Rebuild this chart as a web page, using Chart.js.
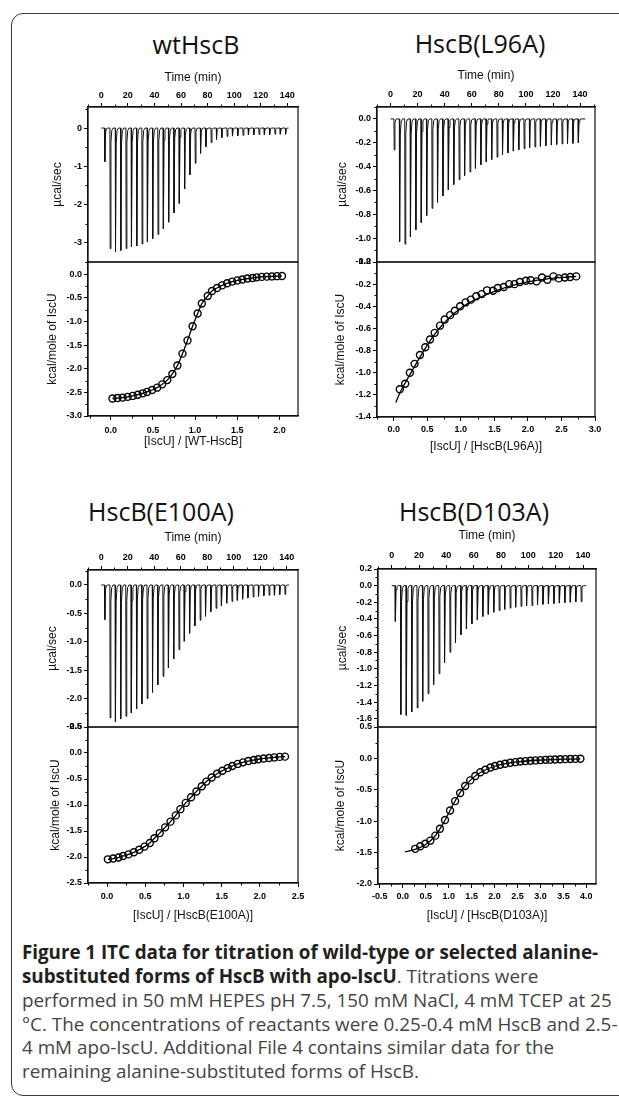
<!DOCTYPE html>
<html><head><meta charset="utf-8">
<script src="https://cdn.jsdelivr.net/npm/chart.js@4.4.0/dist/chart.umd.min.js"></script>
<style>
html,body{margin:0;padding:0;background:#fff;}
body{width:619px;height:1099px;overflow:hidden;position:relative;}
.frame{position:absolute;left:11px;top:13px;width:720px;height:1083px;border:1.6px solid #3a3a3a;border-radius:12px;box-sizing:border-box;}
.ptitle{position:absolute;font-family:"Open Sans";font-size:25px;color:#111;transform:translate(-50%,-50%);white-space:nowrap;line-height:1;}
.cap{position:absolute;left:22px;white-space:nowrap;font-family:"Open Sans";color:#444;line-height:24px;height:24px;}
.cap b{color:#231f20;}
canvas{position:absolute;}
</style></head>
<body>
<div class="frame"></div>
<div class="ptitle" style="left:196px;top:44px;">wtHscB</div>
<div class="ptitle" style="left:480px;top:43px;">HscB(L96A)</div>
<div class="ptitle" style="left:161px;top:511px;">HscB(E100A)</div>
<div class="ptitle" style="left:474px;top:511px;">HscB(D103A)</div>
<div class="cap" id="c1" style="top:940px;"><b>Figure 1 ITC data for titration of wild-type or selected alanine-</b></div>
<div class="cap" id="c2" style="top:964px;"><b>substituted forms of HscB with apo-IscU</b>. Titrations were</div>
<div class="cap" id="c3" style="top:988px;">performed in 50 mM HEPES pH 7.5, 150 mM NaCl, 4 mM TCEP at 25</div>
<div class="cap" id="c4" style="top:1012px;">°C. The concentrations of reactants were 0.25-0.4 mM HscB and 2.5-</div>
<div class="cap" id="c5" style="top:1035px;">4 mM apo-IscU. Additional File 4 contains similar data for the</div>
<div class="cap" id="c6" style="top:1059px;">remaining alanine-substituted forms of HscB.</div>
<script>
// ---------------- DATA ----------------
const timeTicks = [0, 20, 40, 60, 80, 100, 120, 140];
const injTime = [2.5, 6.5, 10.5, 14.5, 18.5, 22.5, 26.5, 30.5, 34.5, 38.5, 42.5, 46.5, 50.5, 54.5, 58.5, 62.5, 66.5, 70.5, 74.5, 78.5, 82.5, 86.5, 90.5, 94.5, 98.5, 102.5, 106.5, 110.5, 114.5, 118.5, 122.5, 126.5, 130.5, 134.5, 138.5];

// raw heat-rate peaks (µcal/sec, magnitude of downward spikes)
const wtPeak   = [0.88, 3.15, 3.23, 3.20, 3.15, 3.10, 3.08, 3.03, 2.97, 2.89, 2.78, 2.63, 2.46, 2.22, 1.97, 1.59, 1.22, 0.92, 0.66, 0.49, 0.38, 0.30, 0.25, 0.22, 0.21, 0.20, 0.19, 0.18, 0.18, 0.17, 0.17, 0.17, 0.16, 0.16, 0.16];
const l96Peak  = [0.26, 1.03, 1.05, 0.99, 0.93, 0.87, 0.81, 0.75, 0.70, 0.645, 0.595, 0.55, 0.51, 0.475, 0.445, 0.415, 0.385, 0.36, 0.34, 0.32, 0.30, 0.285, 0.27, 0.26, 0.25, 0.24, 0.235, 0.23, 0.225, 0.22, 0.215, 0.21, 0.21, 0.205, 0.20];
const e100Peak = [0.61, 2.34, 2.41, 2.36, 2.31, 2.25, 2.18, 2.09, 2.00, 1.89, 1.76, 1.61, 1.46, 1.30, 1.14, 0.99, 0.85, 0.72, 0.62, 0.55, 0.47, 0.41, 0.37, 0.32, 0.29, 0.27, 0.25, 0.23, 0.21, 0.20, 0.19, 0.18, 0.18, 0.17, 0.165];
const d103Peak = [0.43, 1.55, 1.56, 1.52, 1.47, 1.39, 1.30, 1.19, 1.06, 0.93, 0.80, 0.69, 0.59, 0.52, 0.46, 0.41, 0.37, 0.345, 0.32, 0.30, 0.285, 0.27, 0.26, 0.25, 0.245, 0.24, 0.23, 0.225, 0.22, 0.215, 0.21, 0.205, 0.20, 0.197, 0.193];
const wtRunEnd = 140.7, l96RunEnd = 143.9, e100RunEnd = 141.7, d103RunEnd = 142.4;

// integrated heats (kcal/mole of IscU) vs molar ratio
const wtX = [0.02, 0.08, 0.14, 0.20, 0.26, 0.32, 0.38, 0.43, 0.49, 0.55, 0.61, 0.67, 0.73, 0.79, 0.85, 0.91, 0.97, 1.03, 1.08, 1.15, 1.20, 1.26, 1.32, 1.38, 1.44, 1.50, 1.56, 1.62, 1.68, 1.73, 1.79, 1.85, 1.91, 1.97, 2.03];
const wtY = [-2.63, -2.62, -2.61, -2.595, -2.575, -2.55, -2.52, -2.49, -2.45, -2.40, -2.33, -2.24, -2.11, -1.93, -1.68, -1.40, -1.10, -0.83, -0.62, -0.46, -0.355, -0.29, -0.235, -0.19, -0.155, -0.13, -0.11, -0.09, -0.08, -0.065, -0.055, -0.05, -0.045, -0.04, -0.035];

const l96X = [0.09, 0.17, 0.24, 0.31, 0.39, 0.47, 0.54, 0.61, 0.69, 0.76, 0.84, 0.91, 0.99, 1.07, 1.15, 1.23, 1.31, 1.39, 1.48, 1.55, 1.64, 1.72, 1.80, 1.88, 1.97, 2.04, 2.13, 2.21, 2.29, 2.38, 2.46, 2.55, 2.63, 2.72];
const l96Y = [-1.15, -1.10, -1.00, -0.92, -0.84, -0.77, -0.70, -0.64, -0.575, -0.52, -0.48, -0.44, -0.40, -0.365, -0.34, -0.31, -0.29, -0.256, -0.26, -0.235, -0.226, -0.20, -0.20, -0.18, -0.17, -0.165, -0.175, -0.14, -0.16, -0.13, -0.148, -0.14, -0.135, -0.13];
const l96FitX = [0.03, 0.10, 0.20, 0.40, 0.60, 0.80, 1.00, 1.25, 1.50, 1.75, 2.00, 2.25, 2.50, 2.72];
const l96FitY = [-1.27, -1.17, -1.06, -0.85, -0.66, -0.52, -0.415, -0.33, -0.265, -0.215, -0.18, -0.155, -0.14, -0.13];

const e100X = [0.01, 0.08, 0.15, 0.21, 0.28, 0.35, 0.42, 0.49, 0.56, 0.62, 0.69, 0.76, 0.83, 0.90, 0.96, 1.03, 1.10, 1.17, 1.24, 1.30, 1.37, 1.44, 1.51, 1.58, 1.64, 1.71, 1.78, 1.85, 1.92, 1.98, 2.05, 2.12, 2.19, 2.26, 2.33];
const e100Y = [-2.045, -2.03, -2.01, -1.98, -1.95, -1.91, -1.86, -1.80, -1.73, -1.64, -1.54, -1.43, -1.32, -1.20, -1.08, -0.96, -0.85, -0.74, -0.64, -0.55, -0.47, -0.40, -0.34, -0.29, -0.25, -0.21, -0.18, -0.155, -0.135, -0.12, -0.105, -0.095, -0.085, -0.075, -0.07];

const d103X = [0.27, 0.38, 0.49, 0.60, 0.71, 0.81, 0.92, 1.03, 1.14, 1.25, 1.36, 1.47, 1.58, 1.69, 1.80, 1.91, 2.01, 2.12, 2.23, 2.34, 2.45, 2.56, 2.67, 2.78, 2.89, 3.00, 3.11, 3.21, 3.32, 3.43, 3.54, 3.65, 3.76, 3.87];
const d103Y = [-1.44, -1.40, -1.36, -1.31, -1.23, -1.12, -0.98, -0.83, -0.68, -0.55, -0.44, -0.35, -0.28, -0.22, -0.18, -0.145, -0.12, -0.10, -0.085, -0.07, -0.06, -0.05, -0.043, -0.037, -0.032, -0.027, -0.023, -0.02, -0.017, -0.014, -0.012, -0.01, -0.008, -0.006];
const d103FitX = [0.05, 0.27, 0.50, 0.70, 0.90, 1.10, 1.30, 1.50, 1.70, 2.00, 2.50, 3.00, 3.87];
const d103FitY = [-1.49, -1.45, -1.37, -1.24, -1.01, -0.73, -0.49, -0.33, -0.22, -0.125, -0.055, -0.027, -0.006];

// tick labels
const wtTopYTicks = [0, -1, -2, -3];
const wtBotYTicks = [0, -0.5, -1.0, -1.5, -2.0, -2.5, -3.0];
const wtBotXTicks = [0, 0.5, 1.0, 1.5, 2.0];
const l96TopYTicks = [0, -0.2, -0.4, -0.6, -0.8, -1.0, -1.2];
const l96BotYTicks = [0, -0.2, -0.4, -0.6, -0.8, -1.0, -1.2, -1.4];
const l96BotXTicks = [0, 0.5, 1.0, 1.5, 2.0, 2.5, 3.0];
const e100TopYTicks = [0, -0.5, -1.0, -1.5, -2.0, -2.5];
const e100BotYTicks = [0.5, 0, -0.5, -1.0, -1.5, -2.0, -2.5];
const e100BotXTicks = [0, 0.5, 1.0, 1.5, 2.0, 2.5];
const d103TopYTicks = [0.2, 0, -0.2, -0.4, -0.6, -0.8, -1.0, -1.2, -1.4, -1.6];
const d103BotYTicks = [0.5, 0, -0.5, -1.0, -1.5, -2.0];
const d103BotXTicks = [-0.5, 0, 0.5, 1.0, 1.5, 2.0, 2.5, 3.0, 3.5, 4.0];

// ---------------- RENDERING ----------------
Chart.defaults.font.family = 'Liberation Sans';
Chart.defaults.color = '#000';

function spikeTrace(times, peaks, end) {
  const pts = [{x: 0, y: 0}];
  times.forEach((t, i) => {
    const p = peaks[i];
    pts.push({x: t, y: 0}, {x: t + 0.2, y: -p}, {x: t + 0.75, y: -0.12 * p}, {x: t + 1.4, y: -0.02 * p}, {x: t + 2.4, y: 0});
  });
  pts.push({x: end, y: 0});
  return pts;
}
function xy(xs, ys) { return xs.map((x, i) => ({x: x, y: ys[i]})); }

const framePlugin = {
  id: 'frame',
  afterDraw(c) {
    const a = c.chartArea, ctx = c.ctx;
    ctx.save(); ctx.strokeStyle = '#111'; ctx.lineWidth = 1.2;
    ctx.strokeRect(a.left, a.top, a.right - a.left, a.bottom - a.top);
    ctx.restore();
  }
};
function minorPlugin(steps) {
  return {
    id: 'minor',
    afterDraw(c) {
      const ctx = c.ctx;
      ctx.save(); ctx.strokeStyle = '#000'; ctx.lineWidth = 1;
      for (const id of Object.keys(steps)) {
        const s = c.scales[id], step = steps[id];
        const majors = s.ticks.map(t => t.value);
        const n0 = Math.ceil((s.min - 1e-9) / step), n1 = Math.floor((s.max + 1e-9) / step);
        for (let n = n0; n <= n1; n++) {
          const v = n * step;
          if (majors.some(m => Math.abs(m - v) < step / 100)) continue;
          const p = Math.round(s.getPixelForValue(v)) + 0.5;
          ctx.beginPath();
          if (s.position === 'left') { ctx.moveTo(s.right, p); ctx.lineTo(s.right - 2.5, p); }
          else if (s.position === 'top') { ctx.moveTo(p, s.bottom); ctx.lineTo(p, s.bottom - 2.5); }
          else { ctx.moveTo(p, s.top); ctx.lineTo(p, s.top + 2.5); }
          ctx.stroke();
        }
      }
      ctx.restore();
    }
  };
}

function sub(g) {
  const top = g.kind === 'top';
  const cy = top ? g.cy : g.boxT - 8;
  const cw = g.boxR + 14 - g.cx;
  const ch = top ? (g.boxB + 8 - cy) : (g.boxB + g.xh - cy);
  const yw = g.boxL - g.cx;
  const xh = top ? (g.boxT - cy) : g.xh;
  const cv = document.createElement('canvas');
  cv.width = cw; cv.height = ch;
  cv.style.left = g.cx + 'px'; cv.style.top = cy + 'px';
  cv.style.width = cw + 'px'; cv.style.height = ch + 'px';
  document.body.appendChild(cv);
  const tickFont = {family: 'Liberation Sans', weight: 'bold', size: 9};
  const titleFont = {family: 'Liberation Sans', size: 12};
  new Chart(cv.getContext('2d'), {
    type: 'scatter',
    data: {datasets: g.datasets},
    options: {
      responsive: false, animation: false, devicePixelRatio: 1, events: [],
      layout: {padding: top ? {left: 0, right: 14, top: 0, bottom: 8} : {left: 0, right: 14, top: 8, bottom: 0}},
      plugins: {legend: {display: false}, tooltip: {enabled: false}, title: {display: false}},
      scales: {
        x: {
          type: 'linear', position: top ? 'top' : 'bottom', min: g.xmin, max: g.xmax,
          afterBuildTicks: s => { s.ticks = g.xTicks.map(v => ({value: v})); },
          afterFit: s => { s.height = xh; },
          ticks: {font: tickFont, color: '#000', padding: g.xPad, maxRotation: 0, minRotation: 0, autoSkip: false,
                  callback: v => Number(v).toFixed(g.xDec)},
          grid: {display: true, drawOnChartArea: false, drawTicks: true, tickLength: 4, color: '#000', lineWidth: 1},
          border: {display: true, color: '#111', width: 1.2},
          title: {display: true, text: g.xTitle, font: titleFont, color: '#111', padding: {top: 4, bottom: 2}}
        },
        y: {
          type: 'linear', position: 'left', min: g.ymin, max: g.ymax,
          afterBuildTicks: s => { s.ticks = g.yTicks.map(v => ({value: v})); },
          afterFit: s => { s.width = yw; },
          ticks: {font: tickFont, color: '#000', padding: 2, autoSkip: false,
                  callback: v => Number(v).toFixed(g.yDec)},
          grid: {display: true, drawOnChartArea: false, drawTicks: true, tickLength: 4, color: '#000', lineWidth: 1},
          border: {display: true, color: '#111', width: 1.2},
          title: {display: true, text: g.yTitle, font: titleFont, color: '#111', padding: {top: 5, bottom: 0}}
        }
      }
    },
    plugins: [framePlugin, minorPlugin({x: g.xMinor, y: g.yMinor})]
  });
}

function traceDs(pts) {
  return {data: pts, showLine: true, borderColor: '#111', borderWidth: 1, pointRadius: 0, tension: 0, order: 2};
}
function pointDs(pts) {
  return {data: pts, showLine: false, pointRadius: 3.5, pointBorderWidth: 1.4, pointBorderColor: '#000',
          pointBackgroundColor: 'rgba(0,0,0,0)', order: 0};
}
function fitDs(pts) {
  return {data: pts, showLine: true, borderColor: '#000', borderWidth: 1.3, pointRadius: 0,
          cubicInterpolationMode: 'monotone', order: 1};
}

const TT = 'Time (min)', YT = 'µcal/sec', YB = 'kcal/mole of IscU';

// wtHscB
sub({kind: 'top', cx: 45, cy: 66, boxL: 88, boxR: 298, boxT: 107, boxB: 262, xPad: 2,
     xmin: -10, xmax: 148, ymin: -3.5, ymax: 0.55, xTicks: timeTicks, yTicks: wtTopYTicks, xDec: 0, yDec: 0,
     xMinor: 10, yMinor: 0.5, xTitle: TT, yTitle: YT, datasets: [traceDs(spikeTrace(injTime, wtPeak, wtRunEnd))]});
sub({kind: 'bot', cx: 40, boxL: 88, boxR: 298, boxT: 262, boxB: 416, xh: 35, xPad: 5,
     xmin: -0.27, xmax: 2.22, ymin: -3.0, ymax: 0.26, xTicks: wtBotXTicks, yTicks: wtBotYTicks, xDec: 1, yDec: 1,
     xMinor: 0.25, yMinor: 0.25, xTitle: '[IscU] / [WT-HscB]', yTitle: YB,
     datasets: [fitDs(xy(wtX, wtY)), pointDs(xy(wtX, wtY))]});

// HscB(L96A)
sub({kind: 'top', cx: 330, cy: 64, boxL: 377, boxR: 595, boxT: 107, boxB: 262, xPad: 3,
     xmin: -10, xmax: 151, ymin: -1.2, ymax: 0.1, xTicks: timeTicks, yTicks: l96TopYTicks, xDec: 0, yDec: 1,
     xMinor: 10, yMinor: 0.1, xTitle: TT, yTitle: YT, datasets: [traceDs(spikeTrace(injTime, l96Peak, l96RunEnd))]});
sub({kind: 'bot', cx: 328, boxL: 377, boxR: 595, boxT: 262, boxB: 417, xh: 39, xPad: 3,
     xmin: -0.25, xmax: 3.0, ymin: -1.4, ymax: 0.0, xTicks: l96BotXTicks, yTicks: l96BotYTicks, xDec: 1, yDec: 1,
     xMinor: 0.25, yMinor: 0.1, xTitle: '[IscU] / [HscB(L96A)]', yTitle: YB,
     datasets: [fitDs(xy(l96FitX, l96FitY)), pointDs(xy(l96X, l96Y))]});

// HscB(E100A)
sub({kind: 'top', cx: 40, cy: 526, boxL: 88, boxR: 298, boxT: 570, boxB: 727, xPad: 3,
     xmin: -10, xmax: 148.5, ymin: -2.5, ymax: 0.264, xTicks: timeTicks, yTicks: e100TopYTicks, xDec: 0, yDec: 1,
     xMinor: 10, yMinor: 0.25, xTitle: TT, yTitle: YT, datasets: [traceDs(spikeTrace(injTime, e100Peak, e100RunEnd))]});
sub({kind: 'bot', cx: 43, boxL: 88, boxR: 298, boxT: 727, boxB: 883, xh: 42, xPad: 4,
     xmin: -0.25, xmax: 2.5, ymin: -2.5, ymax: 0.5, xTicks: e100BotXTicks, yTicks: e100BotYTicks, xDec: 1, yDec: 1,
     xMinor: 0.25, yMinor: 0.25, xTitle: '[IscU] / [HscB(E100A)]', yTitle: YB,
     datasets: [fitDs(xy(e100X, e100Y)), pointDs(xy(e100X, e100Y))]});

// HscB(D103A)
sub({kind: 'top', cx: 330, cy: 524, boxL: 378, boxR: 596, boxT: 569, boxB: 727, xPad: 4,
     xmin: -10, xmax: 149.5, ymin: -1.7, ymax: 0.2, xTicks: timeTicks, yTicks: d103TopYTicks, xDec: 0, yDec: 1,
     xMinor: 10, yMinor: 0.1, xTitle: TT, yTitle: YT, datasets: [traceDs(spikeTrace(injTime, d103Peak, d103RunEnd))]});
sub({kind: 'bot', cx: 328, boxL: 378, boxR: 596, boxT: 727, boxB: 884, xh: 41, xPad: 3,
     xmin: -0.54, xmax: 4.21, ymin: -2.0, ymax: 0.5, xTicks: d103BotXTicks, yTicks: d103BotYTicks, xDec: 1, yDec: 1,
     xMinor: 0.25, yMinor: 0.25, xTitle: '[IscU] / [HscB(D103A)]', yTitle: YB,
     datasets: [fitDs(xy(d103FitX, d103FitY)), pointDs(xy(d103X, d103Y))]});

// caption sizing: fit lines to their widths in the reference
(function () {
  const mc = document.createElement('canvas').getContext('2d');
  mc.font = '100px "Open Sans"';
  const w = mc.measureText(document.getElementById('c3').textContent).width;
  const size = 100 * 590 / w;
  for (let i = 1; i <= 6; i++) document.getElementById('c' + i).style.fontSize = size.toFixed(2) + 'px';
  const t1 = document.getElementById('c1').textContent;
  mc.font = 'bold ' + size.toFixed(2) + 'px "Open Sans"';
  const wb = mc.measureText(t1).width;
  const ls = (576 - wb) / t1.length;
  document.querySelectorAll('.cap b').forEach(b => { b.style.letterSpacing = ls.toFixed(3) + 'px'; });
})();
</script>
</body></html>
